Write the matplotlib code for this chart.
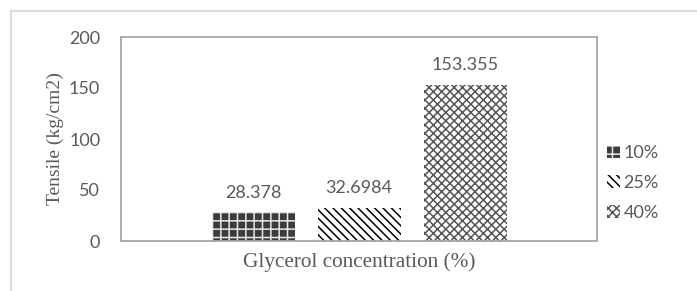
import matplotlib
matplotlib.use("Agg")
import matplotlib.pyplot as plt
from matplotlib.patches import Patch, Rectangle

series = ["10%", "25%", "40%"]
values = [28.378, 32.6984, 153.355]
value_labels = ["28.378", "32.6984", "153.355"]
yticks = [0, 50, 100, 150, 200]
xlabel = "Glycerol concentration (%)"
ylabel = "Tensile (kg/cm2)"

plt.rcParams['hatch.linewidth'] = 1.1
txt = '#595959'
sans = ['Lato', 'DejaVu Sans']
serif = ['Liberation Serif', 'DejaVu Serif']

fig = plt.figure(figsize=(6.97, 2.91), dpi=100)
fig.patches.append(Rectangle((11/697, -0.1), 1.2, 1 - 11/291 + 0.1, transform=fig.transFigure,
                             fill=False, edgecolor='#dcdcdc', linewidth=1.5))
ax = fig.add_axes([121/697, 1 - 241/291, 476/697, 204/291])

styles = [
    dict(facecolor='#3c3c3c', hatch='++', edgecolor='#e8e8e8'),
    dict(facecolor='white', hatch='\\\\\\\\', edgecolor='black'),
    dict(facecolor='white', hatch='xxxx', edgecolor='#555555'),
]
step = 106/476
width = 83/476
handles = []
for i, (s, v, lab) in enumerate(zip(series, values, value_labels)):
    x = (i - 1) * step
    ax.bar(x, v, width=width, linewidth=0, **styles[i])
    ax.text(x, v + 11, lab, ha='center', va='bottom', fontsize=13, color=txt, family=sans)
    handles.append(Patch(linewidth=0, label=s, **styles[i]))

ax.set_xlim(-0.5, 0.5)
ax.set_ylim(0, 200)
ax.set_yticks(yticks)
ax.set_xticks([])
ax.tick_params(axis='y', length=0, pad=15, labelsize=13, labelcolor=txt)
for t in ax.get_yticklabels():
    t.set_family(sans)
for sp in ax.spines.values():
    sp.set_color('#a6a6a6')
    sp.set_linewidth(1.3)
ax.set_xlabel(xlabel, fontsize=15.3, color=txt, family=serif, labelpad=8)
ax.set_ylabel(ylabel, fontsize=14, color=txt, family=serif, va='center')
ax.yaxis.set_label_coords((55 - 121) / 476, 0.5)

leg = fig.legend(handles=handles, loc='center left', bbox_to_anchor=(591/697, 1 - 183/291),
                 frameon=False, handlelength=0.7, handleheight=0.7,
                 handletextpad=0.2, labelspacing=0.75, prop={'family': sans, 'size': 13})
for t in leg.get_texts():
    t.set_color(txt)

fig.savefig("out.png", dpi=100, facecolor='white')
